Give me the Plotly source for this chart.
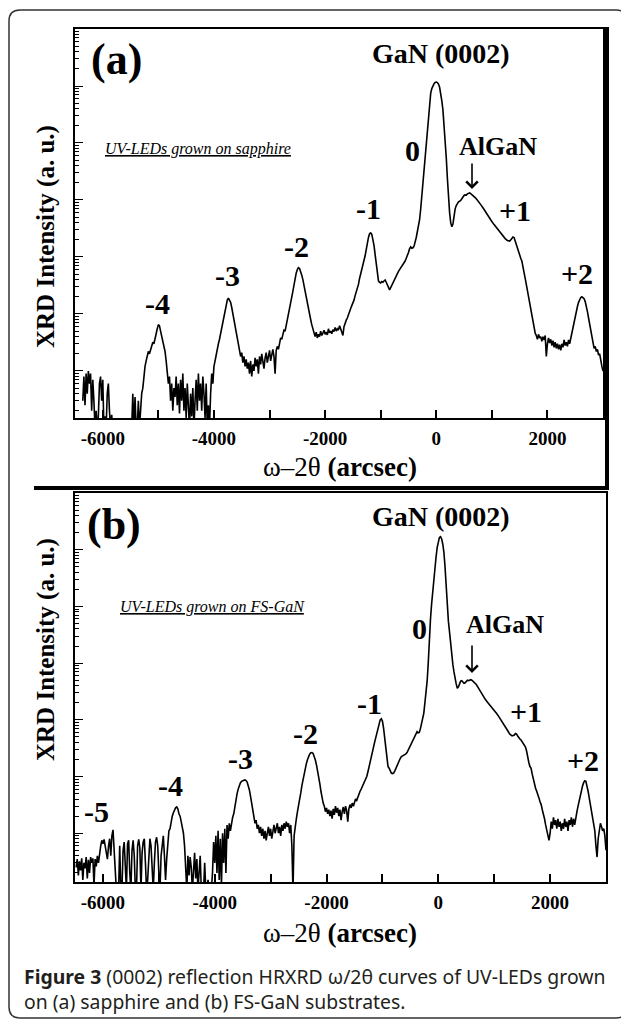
import plotly.graph_objects as go

# page is 629x1022; the html body has an 8px margin, so the figure is 8px smaller and offset
PAGE_W, PAGE_H = 629, 1022
OFF = 8
W, H = PAGE_W - OFF, PAGE_H - OFF

# ---------------- data: panel (a) UV-LEDs on sapphire ----------------
x_a = [-6360, -6340, -6320, -6300, -6280, -6260, -6240, -6220, -6200, -6180, -6160, -6140, -6120, -6100, -6080, -6060,
       -6040, -6020, -6000, -5980, -5960, -5940, -5920, -5900, -5880, -5860, -5840, -5820, -5800, -5700, -5600, -5480,
       -5460, -5440, -5420, -5400, -5380, -5360, -5340, -5320, -5300, -5280, -5260, -5240, -5220, -5200, -5180, -5160,
       -5140, -5120, -5100, -5080, -5060, -5040, -5020, -5000, -4980, -4960, -4940, -4920, -4900, -4880, -4860, -4840,
       -4820, -4800, -4780, -4760, -4740, -4720, -4700, -4680, -4660, -4640, -4620, -4600, -4580, -4560, -4540, -4520,
       -4500, -4480, -4460, -4440, -4420, -4400, -4380, -4360, -4340, -4320, -4300, -4280, -4260, -4240, -4220, -4200,
       -4180, -4160, -4140, -4120, -4100, -4080, -4060, -4040, -4020, -4000, -3980, -3960, -3940, -3920, -3900, -3880,
       -3860, -3840, -3820, -3800, -3780, -3760, -3740, -3720, -3700, -3680, -3660, -3640, -3620, -3600, -3580, -3560,
       -3540, -3520, -3500, -3480, -3460, -3440, -3420, -3400, -3380, -3360, -3340, -3320, -3300, -3280, -3260, -3240,
       -3220, -3200, -3180, -3160, -3140, -3120, -3100, -3080, -3060, -3040, -3020, -3000, -2980, -2960, -2940, -2920,
       -2900, -2880, -2860, -2840, -2820, -2800, -2780, -2760, -2740, -2720, -2700, -2680, -2660, -2640, -2620, -2600,
       -2580, -2560, -2540, -2520, -2500, -2480, -2460, -2440, -2420, -2400, -2380, -2360, -2340, -2320, -2300, -2280,
       -2260, -2240, -2220, -2200, -2180, -2160, -2140, -2120, -2100, -2080, -2060, -2040, -2020, -2000, -1980, -1960,
       -1940, -1920, -1900, -1880, -1860, -1840, -1820, -1800, -1780, -1760, -1740, -1720, -1700, -1680, -1660, -1640,
       -1620, -1600, -1580, -1560, -1540, -1520, -1500, -1480, -1460, -1440, -1420, -1400, -1380, -1360, -1340, -1320,
       -1300, -1280, -1260, -1240, -1220, -1200, -1180, -1160, -1140, -1120, -1100, -1080, -1060, -1040, -1020, -1000,
       -980, -960, -940, -920, -900, -880, -860, -840, -820, -800, -780, -760, -740, -720, -700, -680,
       -660, -640, -620, -600, -580, -560, -540, -520, -500, -480, -460, -440, -420, -400, -380, -360,
       -340, -320, -300, -280, -260, -240, -220, -200, -180, -160, -140, -120, -100, -80, -60, -40,
       -20, 0, 20, 40, 60, 80, 100, 120, 140, 160, 180, 200, 220, 240, 260, 280,
       300, 320, 340, 360, 380, 400, 420, 440, 460, 480, 500, 520, 540, 560, 580, 600,
       620, 640, 660, 680, 700, 720, 760, 800, 840, 880, 920, 960, 1000, 1040, 1080, 1120,
       1160, 1200, 1240, 1280, 1320, 1350, 1380, 1400, 1420, 1440, 1460, 1480, 1500, 1520, 1540, 1560,
       1580, 1600, 1620, 1640, 1660, 1680, 1700, 1720, 1740, 1760, 1780, 1800, 1820, 1840, 1860, 1880,
       1900, 1920, 1940, 1960, 1980, 2000, 2020, 2040, 2060, 2080, 2100, 2120, 2140, 2160, 2180, 2200,
       2220, 2240, 2260, 2280, 2300, 2320, 2340, 2360, 2380, 2400, 2420, 2440, 2460, 2480, 2500, 2520,
       2540, 2560, 2580, 2600, 2620, 2640, 2660, 2680, 2700, 2720, 2740, 2760, 2780, 2800, 2820, 2840,
       2860, 2880, 2900, 2920, 2940, 2960, 2980, 3000]
i_a = [3, 8, 2.5, 9, 4, 10, 6, 9, 2, 7, 3, 1, 2, 1, 1.6, 6,
       8, 3, 7, 1, 1.6, 1, 4, 6, 2, 1, 1.7, 1, 1, 1, 1, 1,
       4, 1, 3.5, 1, 1, 3, 1, 2, 4, 5, 9, 12, 15, 18, 22, 20,
       24, 28, 32, 30, 38, 45, 55, 65, 62, 50, 40, 35, 28, 22, 15, 10,
       6, 8, 3, 6, 2, 5, 3.5, 8, 2.5, 6, 1.8, 7, 3, 9, 2, 5,
       1.5, 6, 3, 1, 4, 1.6, 5, 1, 3, 7, 2, 9, 3, 6, 2, 8,
       4, 1.5, 6, 1, 2.5, 1, 4, 9, 6, 12, 15, 20, 24, 30, 36, 45,
       60, 78, 100, 120, 150, 175, 190, 175, 160, 130, 100, 80, 70, 52, 38, 30,
       24, 18, 21, 14, 18, 12, 16, 11, 14, 9, 15, 8, 13, 10, 17, 12,
       16, 9, 18, 13, 20, 14, 11, 17, 21, 14, 19, 23, 15, 20, 24, 18,
       9, 23, 27, 24, 32, 38, 36, 45, 52, 50, 62, 75, 92, 120, 150, 190,
       250, 320, 420, 520, 600, 650, 630, 560, 480, 400, 310, 250, 190, 150, 120, 95,
       80, 65, 55, 45, 40, 48, 38, 44, 40, 50, 42, 46, 52, 44, 48, 43,
       55, 47, 50, 45, 53, 49, 58, 50, 55, 52, 62, 55, 48, 42, 60, 70,
       78, 85, 100, 115, 125, 140, 155, 175, 210, 240, 270, 330, 420, 500, 580, 680,
       850, 1050, 1350, 1800, 2200, 2550, 2650, 2500, 2100, 1600, 1100, 700, 450, 380, 360, 350,
       370, 360, 380, 395, 360, 330, 290, 265, 290, 320, 350, 400, 440, 480, 520, 560,
       600, 640, 680, 720, 780, 850, 950, 1050, 1200, 1400, 1500, 1420, 1450, 1550, 1800, 2200,
       2800, 3500, 4500, 7000, 12000, 20000, 35000, 60000, 100000, 170000, 280000, 550000, 750000, 900000, 1020000, 1100000,
       1150000, 1170000, 1150000, 1080000, 950000, 750000, 550000, 380000, 220000, 110000, 55000, 24000, 11000, 6000, 4000, 3400,
       3800, 5500, 7000, 8000, 8800, 9300, 9500, 9800, 10500, 11500, 12000, 12300, 12200, 12800, 13300, 13300,
       12900, 12500, 12000, 11500, 11000, 10500, 9500, 8300, 7300, 6300, 5500, 4800, 4200, 3700, 3300, 2900,
       2600, 2300, 2100, 1950, 1900, 2050, 2250, 2200, 1900, 1600, 1350, 1200, 1050, 950, 850, 700,
       550, 420, 330, 260, 200, 150, 115, 90, 70, 55, 46, 42, 36, 44, 38, 40,
       33, 40, 35, 42, 18, 30, 38, 31, 36, 28, 34, 26, 32, 25, 30, 24,
       29, 23, 30, 26, 35, 28, 32, 27, 35, 30, 38, 45, 55, 70, 90, 110,
       135, 160, 180, 195, 200, 195, 185, 165, 140, 110, 85, 65, 50, 38, 30, 25,
       27, 22, 24, 19, 20, 14, 12, 10]

# ---------------- data: panel (b) UV-LEDs on FS-GaN ----------------
x_b = [-6480, -6460, -6440, -6420, -6400, -6380, -6360, -6340, -6320, -6300, -6280, -6260, -6240, -6220, -6200, -6180,
       -6160, -6140, -6120, -6100, -6080, -6060, -6040, -6020, -6000, -5980, -5960, -5940, -5920, -5900, -5880, -5860,
       -5840, -5820, -5800, -5780, -5760, -5740, -5720, -5700, -5680, -5660, -5640, -5620, -5600, -5580, -5560, -5540,
       -5520, -5500, -5480, -5460, -5440, -5420, -5400, -5380, -5360, -5340, -5320, -5300, -5280, -5260, -5240, -5220,
       -5200, -5180, -5160, -5140, -5120, -5100, -5080, -5060, -5040, -5020, -5000, -4980, -4960, -4940, -4920, -4900,
       -4880, -4860, -4840, -4820, -4800, -4780, -4760, -4740, -4720, -4700, -4680, -4660, -4640, -4620, -4600, -4580,
       -4560, -4540, -4520, -4500, -4480, -4460, -4440, -4420, -4400, -4380, -4360, -4340, -4320, -4300, -4280, -4260,
       -4240, -4220, -4200, -4180, -4160, -4140, -4120, -4100, -4080, -4060, -4040, -4020, -4000, -3980, -3960, -3940,
       -3920, -3900, -3880, -3860, -3840, -3820, -3800, -3780, -3760, -3740, -3720, -3700, -3680, -3660, -3640, -3620,
       -3600, -3580, -3560, -3540, -3520, -3500, -3480, -3460, -3440, -3420, -3400, -3380, -3360, -3340, -3320, -3300,
       -3280, -3260, -3240, -3220, -3200, -3180, -3160, -3140, -3120, -3100, -3080, -3060, -3040, -3020, -3000, -2980,
       -2960, -2940, -2920, -2900, -2880, -2860, -2840, -2820, -2800, -2780, -2760, -2740, -2720, -2700, -2680, -2660,
       -2640, -2620, -2600, -2580, -2560, -2540, -2520, -2500, -2480, -2460, -2440, -2420, -2400, -2380, -2360, -2340,
       -2320, -2300, -2280, -2260, -2240, -2220, -2200, -2180, -2160, -2140, -2120, -2100, -2080, -2060, -2040, -2020,
       -2000, -1980, -1960, -1940, -1920, -1900, -1880, -1860, -1840, -1820, -1800, -1780, -1760, -1740, -1720, -1700,
       -1680, -1660, -1640, -1620, -1600, -1580, -1560, -1540, -1520, -1500, -1480, -1460, -1440, -1420, -1400, -1380,
       -1360, -1340, -1320, -1300, -1280, -1260, -1240, -1220, -1200, -1180, -1160, -1140, -1120, -1100, -1080, -1060,
       -1040, -1020, -1000, -980, -960, -940, -920, -900, -880, -860, -840, -820, -800, -780, -760, -740,
       -720, -700, -680, -660, -640, -620, -600, -580, -560, -540, -520, -500, -480, -460, -440, -420,
       -400, -380, -360, -340, -320, -300, -280, -260, -240, -220, -200, -180, -160, -140, -120, -100,
       -80, -60, -40, -20, 0, 20, 40, 60, 80, 100, 120, 140, 160, 180, 200, 220,
       240, 260, 280, 300, 320, 340, 360, 380, 400, 420, 440, 460, 480, 500, 520, 540,
       560, 580, 600, 620, 640, 660, 680, 700, 720, 740, 760, 780, 800, 840, 880, 920,
       960, 1000, 1040, 1080, 1120, 1160, 1200, 1240, 1280, 1320, 1360, 1380, 1400, 1420, 1440, 1460,
       1480, 1500, 1520, 1540, 1560, 1580, 1600, 1620, 1640, 1660, 1680, 1700, 1720, 1740, 1760, 1780,
       1800, 1820, 1840, 1860, 1880, 1900, 1920, 1940, 1960, 1980, 2000, 2020, 2040, 2060, 2080, 2100,
       2120, 2140, 2160, 2180, 2200, 2220, 2240, 2260, 2280, 2300, 2320, 2340, 2360, 2380, 2400, 2420,
       2440, 2460, 2480, 2500, 2520, 2540, 2560, 2580, 2600, 2620, 2640, 2660, 2680, 2700, 2720, 2740,
       2760, 2780, 2800, 2820, 2840, 2860, 2880, 2900, 2920, 2940, 2960, 2980, 3000]
i_b = [2.5, 3.5, 1.8, 3.2, 2.2, 3.6, 1.5, 3.0, 2.4, 3.8, 1.6, 3.4, 2.0, 3.8, 3.0, 3.6,
       1.2, 3.5, 2.6, 4.0, 3.0, 4.5, 6, 7.5, 6.5, 7.8, 6, 5, 3.5, 6, 8, 4,
       9, 11.5, 5, 2, 1, 1, 1, 6, 1, 1, 5, 7, 3, 1, 6.5, 7.5,
       2, 1, 5, 7.5, 4, 1, 1, 6, 7.8, 5.5, 1, 4.5, 7, 8, 3, 1,
       1.5, 5, 8, 6, 2.5, 1, 3, 7, 8.5, 6, 2, 1, 4, 7, 9, 4,
       1.5, 3.5, 8, 11, 12, 16, 20, 23, 26, 28, 29, 27, 22, 20, 16, 13,
       10, 6, 2, 1, 4, 1.8, 3.8, 2.5, 1, 3, 4.5, 1.6, 3.5, 1, 2.2, 4,
       1, 1, 1, 3, 1, 1, 1.5, 1, 1, 1, 2, 7, 3, 9, 2, 11,
       1.5, 8, 1.2, 10, 3, 12, 2, 14, 8, 15, 11, 16, 19, 22, 30, 40,
       50, 60, 70, 78, 82, 85, 86, 87, 85, 80, 70, 58, 45, 35, 26, 20,
       15, 17, 12, 14, 10, 13, 9, 12, 8, 11, 7.5, 10, 13, 9, 12, 8,
       11, 14, 10, 12, 15, 10, 13, 9, 14, 11, 15, 12, 16, 13, 15, 10,
       14, 6, 1, 9, 14, 18, 24, 30, 38, 52, 70, 90, 110, 140, 170, 200,
       230, 250, 262, 265, 255, 230, 195, 160, 130, 100, 75, 55, 40, 34, 30, 24,
       28, 22, 26, 20, 25, 18, 27, 21, 30, 23, 28, 20, 26, 17, 24, 29,
       22, 30, 25, 16, 27, 32, 28, 34, 30, 36, 40, 38, 44, 50, 55, 60,
       66, 72, 78, 88, 100, 120, 150, 180, 220, 270, 330, 400, 480, 580, 720, 880,
       1000, 1040, 950, 720, 450, 280, 190, 150, 140, 125, 115, 113, 115, 125, 140, 160,
       180, 195, 210, 225, 230, 235, 240, 250, 265, 290, 320, 350, 380, 420, 470, 530,
       580, 620, 590, 600, 700, 850, 1000, 1300, 2000, 3000, 4800, 10000, 30000, 60000, 110000, 190000,
       300000, 480000, 750000, 1100000, 1450000, 1650000, 1700000, 1550000, 1250000, 900000, 500000, 230000, 100000, 55000, 36000, 22000,
       14000, 9500, 7000, 5200, 4300, 3600, 3800, 4300, 4800, 4900, 4600, 4400, 4500, 4800, 5000, 4900,
       5000, 5100, 5000, 4800, 4600, 4400, 4200, 3900, 3600, 3300, 3000, 2850, 2600, 2300, 2050, 1850,
       1650, 1500, 1300, 1150, 1000, 850, 720, 630, 560, 520, 540, 575, 560, 520, 480, 460,
       440, 410, 390, 370, 330, 280, 200, 175, 150, 140, 110, 90, 70, 62, 55, 45,
       42, 36, 32, 26, 22, 18, 14, 11, 8.5, 7.5, 10, 16, 12, 19, 14, 17,
       12, 18, 13, 16, 11, 15, 12, 18, 13, 16, 11, 17, 14, 19, 13, 18,
       14, 20, 24, 30, 38, 45, 55, 68, 78, 84, 82, 70, 55, 42, 32, 25,
       18, 14, 11, 6, 3.8, 8, 12, 15, 13, 11, 12, 9, 5]

x_tick_vals = [-6000, -4000, -2000, 0, 2000]
x_tick_text = ["-6000", "-4000", "-2000", "0", "2000"]

labels_a = ["-4", "-3", "-2", "-1", "0", "+1", "+2"]
labels_b = ["-5", "-4", "-3", "-2", "-1", "0", "+1", "+2"]

caption_lines = ["<b>Figure 3</b> (0002) reflection HRXRD ω/2θ curves of UV-LEDs grown",
                 "on (a) sapphire and (b) FS-GaN substrates."]


def px(x):
    return (x - OFF) / W


def py(y):
    return 1 - (y - OFF) / H


SERIF = "Liberation Serif, Times New Roman, serif"

fig = go.Figure()
fig.add_trace(go.Scatter(x=x_a, y=i_a, mode="lines", line=dict(color="black", width=1.6),
                         xaxis="x", yaxis="y", showlegend=False))
fig.add_trace(go.Scatter(x=x_b, y=i_b, mode="lines", line=dict(color="black", width=1.6),
                         xaxis="x2", yaxis="y2", showlegend=False))

xcommon = dict(range=[-6500, 3000], tickmode="array", tickvals=x_tick_vals,
               ticktext=[f"<b>{t}</b>" for t in x_tick_text],
               ticks="inside", ticklen=8, tickwidth=1.5, tickcolor="black",
               minor=dict(dtick=1000, ticks="inside", ticklen=8, tickwidth=1.5, tickcolor="black", showgrid=False),
               showline=True, linecolor="black", linewidth=2, mirror=True, showgrid=False, zeroline=False,
               tickfont=dict(family=SERIF, size=19, color="black"), ticklabelstandoff=2)
ycommon = dict(type="log", dtick=1, showticklabels=False, ticks="inside", ticklen=8, tickwidth=1.2,
               tickcolor="black",
               minor=dict(dtick="D1", ticks="inside", ticklen=4, tickwidth=1, tickcolor="black", showgrid=False),
               showline=True, linecolor="black", linewidth=2, mirror=True, showgrid=False, zeroline=False)

fig.update_layout(
    width=W, height=H, margin=dict(l=0, r=0, t=0, b=0),
    paper_bgcolor="white", plot_bgcolor="white",
    xaxis=dict(domain=[px(75), px(603)], anchor="y", **xcommon),
    yaxis=dict(domain=[py(418), py(29)], anchor="x", range=[0.175, 7.0], **ycommon),
    xaxis2=dict(domain=[px(75), px(606)], anchor="y2", **xcommon),
    yaxis2=dict(domain=[py(882), py(493)], anchor="x2", range=[0.14, 7.0], **ycommon),
)

shapes = []
# outer rounded frame
r = 11
x0, x1, y0, y1 = 9, 627, 10, 1018
path = (f"M {px(x0 + r)},{py(y0)} L {px(x1 - r)},{py(y0)} Q {px(x1)},{py(y0)} {px(x1)},{py(y0 + r)} "
        f"L {px(x1)},{py(y1 - r)} Q {px(x1)},{py(y1)} {px(x1 - r)},{py(y1)} "
        f"L {px(x0 + r)},{py(y1)} Q {px(x0)},{py(y1)} {px(x0)},{py(y1 - r)} "
        f"L {px(x0)},{py(y0 + r)} Q {px(x0)},{py(y0)} {px(x0 + r)},{py(y0)} Z")
shapes.append(dict(type="path", xref="paper", yref="paper", path=path, line=dict(color="#333333", width=1.5)))
# thick box lines around panel (a)
shapes.append(dict(type="line", xref="paper", yref="paper", x0=px(607), x1=px(607), y0=py(27), y1=py(489),
                   line=dict(color="black", width=4)))
shapes.append(dict(type="line", xref="paper", yref="paper", x0=px(34), x1=px(609), y0=py(488), y1=py(488),
                   line=dict(color="black", width=4)))
fig.update_layout(shapes=shapes)

ann = []


def txt(x, y, s, size, family=SERIF, xanchor="center", color="black", align="center"):
    ann.append(dict(x=px(x), y=py(y), xref="paper", yref="paper", text=s, showarrow=False,
                    xanchor=xanchor, yanchor="middle", align=align,
                    font=dict(family=family, size=size, color=color)))


def arrow(x, y_tip, y_tail):
    ann.append(dict(x=px(x), y=py(y_tip), xref="paper", yref="paper", text="", showarrow=True,
                    ax=0, ay=y_tail - y_tip, arrowhead=4, arrowsize=1.4, arrowwidth=1.6, arrowcolor="black"))


# panel (a)
txt(116, 59, "<b>(a)</b>", 44)
txt(441, 53, "<b>GaN (0002)</b>", 28)
txt(103, 149, "<u><i>UV-LEDs grown on sapphire</i></u>", 16, xanchor="left")
pos_a = [(157, 303), (227, 275), (296, 247), (368, 208), (412, 150), (515, 210), (577, 273)]
for lab, (lx, ly) in zip(labels_a, pos_a):
    txt(lx, ly, f"<b>{lab}</b>", 30)
txt(498, 146, "<b>AlGaN</b>", 26)
arrow(472, 189, 162)
txt(340, 467, "ω–2θ <b>(arcsec)</b>", 27)
ann.append(dict(x=px(46), y=py(237), xref="paper", yref="paper", text="<b>XRD Intensity (a. u.)</b>",
                showarrow=False, textangle=-90, xanchor="center", yanchor="middle",
                font=dict(family=SERIF, size=25, color="black")))

# panel (b)
txt(114, 524, "<b>(b)</b>", 44)
txt(441, 516, "<b>GaN (0002)</b>", 28)
txt(118, 607, "<u><i>UV-LEDs grown on FS-GaN</i></u>", 16, xanchor="left")
pos_b = [(96, 811), (170, 785), (240, 758), (305, 733), (369, 703), (419, 628), (526, 711), (583, 760)]
for lab, (lx, ly) in zip(labels_b, pos_b):
    txt(lx, ly, f"<b>{lab}</b>", 30)
txt(505, 624, "<b>AlGaN</b>", 26)
arrow(472, 673, 644)
txt(340, 933, "ω–2θ <b>(arcsec)</b>", 27)
ann.append(dict(x=px(46), y=py(650), xref="paper", yref="paper", text="<b>XRD Intensity (a. u.)</b>",
                showarrow=False, textangle=-90, xanchor="center", yanchor="middle",
                font=dict(family=SERIF, size=25, color="black")))

# caption (single two-line text block)
txt(22, 989, "<br>".join(caption_lines), 19.4, family="Noto Sans", xanchor="left", color="#231f20", align="left")

fig.update_layout(annotations=ann)
fig.write_html("out.html")
